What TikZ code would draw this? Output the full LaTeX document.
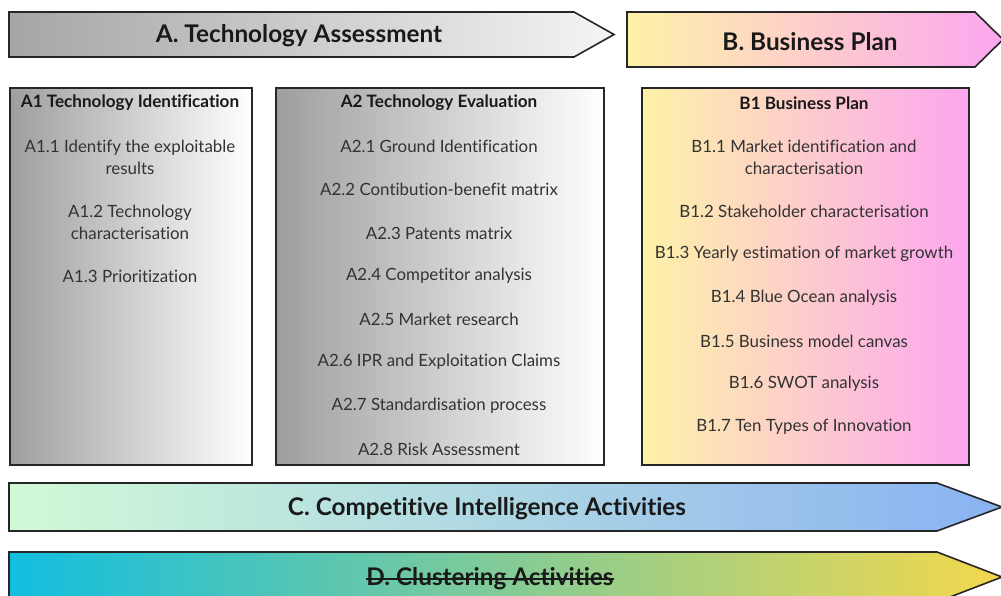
\documentclass[tikz,border=0pt]{standalone}
\usepackage{fontspec}
\setmainfont{Lato}[Ligatures=NoCommon]
\begin{document}
\begin{tikzpicture}[x=1pt,y=-1pt,
  outline/.style={draw=black!85, line width=1.6pt, line join=miter},
  titletext/.style={font=\fontsize{24.3}{28}\selectfont\bfseries, text=black!90, inner sep=0pt},
  headtext/.style={font=\fontsize{17.1}{20}\selectfont\bfseries, text=black!90, inner sep=0pt},
  itemtext/.style={font=\fontsize{16.9}{22}\selectfont, text=black!80, align=center, inner sep=0pt},
  panel/.style={outline, rectangle, inner sep=0pt, anchor=north west}]
\useasboundingbox (0,0) rectangle (1001,595);
\fill[white] (0,0) rectangle (1001,595);

% --- phase arrows ---
\path[outline, left color=black!35, right color=black!4]
  (9,12) -- (574,12) -- (614,34.5) -- (574,57) -- (9,57) -- cycle;
\path[outline, left color={rgb,255:red,253;green,242;blue,168}, right color={rgb,255:red,252;green,166;blue,240}]
  (627,12) -- (975,12) -- (1003,39.5) -- (975,67) -- (627,67) -- cycle;
\path[outline, left color={rgb,255:red,208;green,250;blue,214}, right color={rgb,255:red,138;green,178;blue,242}]
  (9,483) -- (937,483) -- (1002,507) -- (937,531) -- (9,531) -- cycle;
\path[outline, left color={rgb,255:red,18;green,190;blue,224}, middle color={rgb,255:red,160;green,210;blue,140}, right color={rgb,255:red,244;green,216;blue,76}]
  (9,552) -- (937,552) -- (1002,577) -- (937,602) -- (9,602) -- cycle;

\node[titletext] (tA) at (299,36) {A. Technology Assessment};
\node[titletext] (tB) at (810,42) {B. Business Plan};
\node[titletext] (tC) at (487,509) {C. Competitive Intelligence Activities};
\node[titletext] (tD) at (490,579) {D. Clustering Activities};
% strike-through across the D label
\draw[line width=1.4pt, black!90] ([yshift=7pt]tD.base west) -- ([yshift=7pt]tD.base east);

% --- task panels ---
\node[panel, minimum width=242pt, minimum height=377pt, left color=black!38, right color=white] (A1) at (9,87) {};
\node[panel, minimum width=328pt, minimum height=377pt, left color=black!38, right color=white] (A2) at (275,87) {};
\node[panel, minimum width=327pt, minimum height=377pt, left color={rgb,255:red,253;green,242;blue,168}, right color={rgb,255:red,252;green,166;blue,240}] (B1) at (641,87) {};

% A1 contents
\node[headtext] (a1h) at (130,103) {A1 Technology Identification};
\node[itemtext] (a11) at (130,157) {A1.1 Identify the exploitable\\results};
\node[itemtext] (a12) at (130,222) {A1.2 Technology\\characterisation};
\node[itemtext] (a13) at (130,276) {A1.3 Prioritization};

% A2 contents
\node[headtext] (a2h) at (439,103) {A2 Technology Evaluation};
\node[itemtext] (a21) at (439,146) {A2.1 Ground Identification};
\node[itemtext] (a22) at (439,189) {A2.2 Contibution-benefit matrix};
\node[itemtext] (a23) at (439,233) {A2.3 Patents matrix};
\node[itemtext] (a24) at (439,276) {A2.4 Competitor analysis};
\node[itemtext] (a25) at (439,319) {A2.5 Market research};
\node[itemtext] (a26) at (439,362) {A2.6 IPR and Exploitation Claims};
\node[itemtext] (a27) at (439,406) {A2.7 Standardisation process};
\node[itemtext] (a28) at (439,449) {A2.8 Risk Assessment};

% B1 contents
\node[headtext] (b1h) at (804,103) {B1 Business Plan};
\node[itemtext] (b11) at (804,157) {B1.1 Market identification and\\characterisation};
\node[itemtext] (b12) at (804,211) {B1.2 Stakeholder characterisation};
\node[itemtext] (b13) at (804,254) {B1.3 Yearly estimation of market growth};
\node[itemtext] (b14) at (804,298) {B1.4 Blue Ocean analysis};
\node[itemtext] (b15) at (804,341) {B1.5 Business model canvas};
\node[itemtext] (b16) at (804,384) {B1.6 SWOT analysis};
\node[itemtext] (b17) at (804,427) {B1.7 Ten Types of Innovation};
\end{tikzpicture}
\end{document}
